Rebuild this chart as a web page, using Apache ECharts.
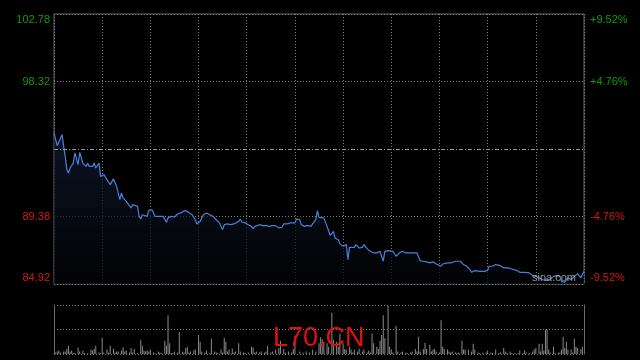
<!DOCTYPE html>
<html>
<head>
<meta charset="utf-8">
<script src="https://cdn.jsdelivr.net/npm/echarts@6/dist/echarts.min.js"></script>
<style>
html,body{margin:0;padding:0;background:#000;}
#c{width:640px;height:360px;}
</style>
</head>
<body>
<div id="c"></div>
<script>
// ---- data ----
var prevClose = 93.85;
var priceTickLabels = ['84.92', '89.38', '', '98.32', '102.78'];
var pctTickLabels = ['-9.52%', '-4.76%', '', '+4.76%', '+9.52%'];

// minute index within the session (0..330) and last price
var minutes = [0,2,3,5,6,7,8,9,10,12,13,15,16,18,20,21,22,24,25,26,28,29,30,31,32,33,35,36,37,39,40,41,42,43,45,46,48,49,50,52,53,54,55,56,58,59,61,62,63,66,68,69,70,71,73,75,77,79,81,83,86,88,89,91,93,95,97,99,101,103,104,105,106,108,110,112,115,116,117,119,121,123,124,125,128,130,132,134,136,138,140,142,143,145,147,150,151,153,154,156,158,160,161,162,163,164,165,166,168,170,172,173,174,175,177,178,180,181,182,183,184,185,187,188,190,192,193,195,197,199,201,203,204,205,206,208,211,213,215,217,219,222,226,228,230,232,234,236,237,238,239,241,242,243,245,247,250,251,253,255,257,259,260,261,262,265,268,270,271,273,275,278,280,283,285,288,290,293,296,298,300,302,304,307,309,311,313,315,316,318,320,322,324,326,328,330];
var prices = [94.91,94.07,94.02,94.80,94.02,93.36,92.48,92.26,92.59,92.92,93.59,92.81,93.63,92.92,92.70,92.92,92.70,92.70,92.92,92.59,92.92,92.04,91.93,92.15,92.00,91.93,91.49,91.42,91.87,91.38,91.27,90.50,90.94,90.61,90.38,90.38,89.95,90.17,90.10,90.05,89.39,89.22,89.50,89.50,89.39,89.79,89.83,89.62,89.39,89.39,89.39,89.29,89.00,89.29,89.39,89.35,89.55,89.62,89.77,89.72,89.50,89.17,88.89,89.06,89.50,89.62,89.50,89.39,89.17,88.96,88.73,88.51,88.84,88.89,88.84,88.89,89.06,89.22,89.02,88.96,88.84,88.73,88.58,88.73,88.84,88.78,88.80,88.73,88.78,88.78,88.62,88.69,88.89,88.89,88.96,88.96,89.22,89.17,88.84,88.73,88.80,88.73,88.89,88.84,89.17,89.77,89.33,89.46,89.29,88.73,88.14,88.07,88.40,87.96,87.85,87.57,87.41,87.47,87.52,86.53,87.34,87.30,87.34,87.52,87.30,87.34,87.52,87.24,87.08,86.97,86.97,87.08,87.12,86.42,87.08,87.12,87.08,86.75,86.97,87.08,86.97,86.97,86.97,86.46,86.42,86.38,86.31,86.38,86.46,86.24,86.35,86.09,86.24,86.20,86.31,86.31,86.42,86.53,86.42,86.20,86.09,85.87,85.69,85.75,85.80,85.75,85.75,85.82,86.09,86.09,86.20,86.13,85.98,85.98,85.91,85.82,85.69,85.69,85.65,85.47,85.42,85.32,85.21,85.16,85.25,85.42,85.47,85.42,85.09,85.03,85.32,85.21,85.42,85.60,85.32,85.75];

// volume bars: minute index and volume
var volMinutes = [1,2,3,4,6,7,8,9,10,11,12,13,15,16,18,19,21,23,24,25,26,28,29,30,31,33,34,35,37,38,39,40,42,43,44,45,47,48,49,50,52,54,55,56,57,58,59,60,62,63,65,66,67,69,70,71,72,73,74,75,77,78,80,81,82,
83,84,85,87,88,90,91,92,94,95,97,98,100,101,102,104,105,106,107,108,109,111,112,113,115,116,118,119,121,123,124,125,126,128,129,131,132,133,135,136,138,140,141,143,144,146,148,149,150,153,155,157,159,161,163,165,166,
167,168,170,171,173,174,176,177,178,180,181,182,184,185,186,187,189,190,192,193,195,196,197,198,199,201,202,203,204,205,206,208,209,210,211,213,214,216,217,219,220,222,223,225,226,227,228,230,231,232,234,235,236,237,238,240,241,242,243,245,246,247,248,250,
251,252,254,255,256,258,260,261,262,264,265,267,269,270,272,273,275,277,278,280,281,282,284,285,287,289,290,292,293,294,296,298,299,300,302,303,304,305,306,307,308,309,311,312,314,315,316,317,318,319,320,322,323,324,325,326,328,329];
var volumes = [3,5,7,3,5,5,10,17,5,7,2,2,13,5,7,2,2,9,7,10,17,3,2,33,3,9,3,17,11,3,5,5,7,14,5,7,3,12,3,10,2,29,17,7,5,7,5,9,3,2,5,3,2,27,17,79,22,2,2,5,3,45,5,3,12,
15,3,5,7,9,39,25,5,3,7,2,31,5,3,2,9,3,33,25,5,9,11,3,5,22,5,3,2,3,15,13,3,5,3,5,3,5,17,3,5,9,12,27,10,3,5,3,10,37,5,3,5,3,9,5,22,34,
30,25,22,15,84,29,25,15,42,22,10,9,15,9,3,9,5,10,5,9,3,7,3,42,22,15,10,27,39,79,32,98,15,9,3,57,5,3,5,3,2,3,5,10,5,35,5,10,23,10,19,5,9,10,5,3,69,15,10,9,5,3,5,3,
2,3,27,9,9,9,5,21,9,3,2,3,3,7,3,2,9,2,3,12,5,2,5,2,2,2,7,2,7,3,2,5,9,12,21,5,21,7,50,50,9,3,15,2,3,3,9,35,12,25,9,9,3,31,15,12,9,15];

// ---- chart ----
var GREEN = '#0c9c0c', RED = '#d41717';
var dotted = {color: '#7c7c7c', width: 1, type: [1, 2]};

var lineData = minutes.map(function (m, i) {
  return [m, (prices[i] - prevClose) / prevClose * 100];
});
var volData = volMinutes.map(function (m, i) { return [m, volumes[i]]; });

function labelRich(txt, idx, last) {
  if (!txt) return '';
  var c = idx > 2 ? 'g' : 'r';
  if (idx === last) c += 't';
  if (idx === 0) c += 'b';
  return '{' + c + '|' + txt + '}';
}
var rich = {
  g: {color: GREEN, fontSize: 11},
  gt: {color: GREEN, fontSize: 11, padding: [12, 0, 0, 0]},
  r: {color: RED, fontSize: 11},
  rb: {color: RED, fontSize: 11, padding: [0, 0, 12, 0]}
};

var chart = echarts.init(document.getElementById('c'), null, {renderer: 'canvas'});
chart.setOption({
  backgroundColor: '#000',
  animation: false,
  textStyle: {fontFamily: 'Liberation Sans, Arial, sans-serif'},
  grid: [
    {left: 54, top: 14, width: 530, height: 270, show: true, borderColor: '#6a6a6a', borderWidth: 1, backgroundColor: 'transparent'},
    {left: 54, top: 305, width: 530, height: 49}
  ],
  xAxis: [
    {type: 'value', gridIndex: 0, min: 0, max: 330, interval: 30,
     axisLine: {show: false}, axisTick: {show: false}, axisLabel: {show: false},
     splitLine: {show: true, lineStyle: dotted}},
    {type: 'value', gridIndex: 1, min: 0, max: 330, interval: 30,
     axisLine: {show: false}, axisTick: {show: false}, axisLabel: {show: false},
     splitLine: {show: false}}
  ],
  yAxis: [
    {type: 'value', gridIndex: 0, min: -9.52, max: 9.52, interval: 4.76, position: 'left',
     axisLine: {show: false}, axisTick: {show: false},
     axisLabel: {margin: 4, formatter: function (v, i) { return labelRich(priceTickLabels[i], i, 4); }, rich: rich},
     splitLine: {show: true, lineStyle: dotted}},
    {type: 'value', gridIndex: 0, min: -9.52, max: 9.52, interval: 4.76, position: 'right',
     axisLine: {show: false}, axisTick: {show: false},
     axisLabel: {margin: 6, formatter: function (v, i) { return labelRich(pctTickLabels[i], i, 4); }, rich: rich},
     splitLine: {show: false}},
    {type: 'value', gridIndex: 1, min: 0, max: 100, interval: 50, position: 'left',
     axisLine: {show: true, lineStyle: {color: '#6a6a6a'}}, axisTick: {show: false}, axisLabel: {show: false},
     splitLine: {show: true, lineStyle: dotted}},
    {type: 'value', gridIndex: 1, min: 0, max: 100, interval: 50, position: 'right',
     axisLine: {show: true, lineStyle: {color: '#6a6a6a'}}, axisTick: {show: false}, axisLabel: {show: false},
     splitLine: {show: false}}
  ],
  series: [
    {type: 'line', xAxisIndex: 0, yAxisIndex: 0, data: lineData, showSymbol: false, symbol: 'none',
     lineStyle: {color: '#4a80dc', width: 1.2},
     areaStyle: {origin: 'start', color: new echarts.graphic.LinearGradient(0, 0, 0, 1, [
       {offset: 0, color: '#101c33'}, {offset: 1, color: '#020305'}])},
     markLine: {silent: true, symbol: 'none', label: {show: false},
       lineStyle: {color: '#9a9a9a', width: 1, type: [4, 2, 1, 2]},
       data: [{yAxis: 0}]},
     z: 3},
    {type: 'bar', xAxisIndex: 1, yAxisIndex: 2, data: volData, barWidth: 1,
     itemStyle: {color: '#8a8a8a'}, z: 2}
  ],
  graphic: [
    {type: 'text', left: 532, top: 272, z: 10, silent: true,
     style: {text: 'sina.com', fill: 'rgba(190,190,190,0.75)', font: '11px "Liberation Sans", Arial, sans-serif'}},
    {type: 'text', left: 273, top: 325, z: 10, silent: true,
     style: {text: 'L70.CN', fill: '#e31010', font: '27px "Liberation Sans", Arial, sans-serif'}}
  ]
});
</script>
</body>
</html>
